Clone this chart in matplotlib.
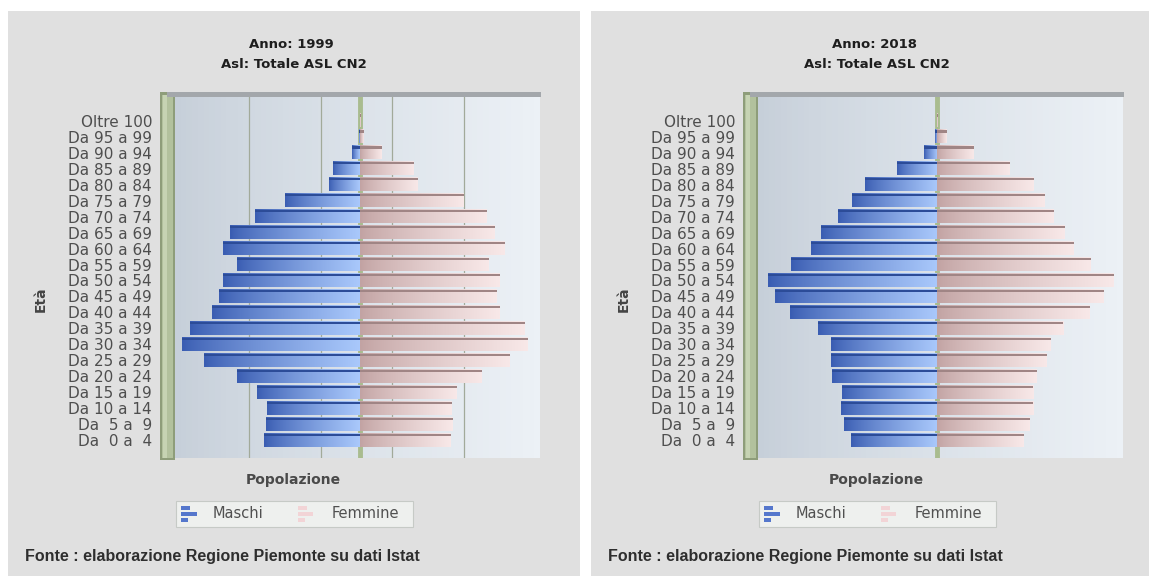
import numpy as np
import matplotlib
matplotlib.use("Agg")
import matplotlib.pyplot as plt
from matplotlib.colors import to_rgb
from matplotlib.patches import Rectangle

# age classes, bottom (youngest) to top
ages = ["Da  0 a  4", "Da  5 a  9", "Da 10 a 14", "Da 15 a 19", "Da 20 a 24",
        "Da 25 a 29", "Da 30 a 34", "Da 35 a 39", "Da 40 a 44", "Da 45 a 49",
        "Da 50 a 54", "Da 55 a 59", "Da 60 a 64", "Da 65 a 69", "Da 70 a 74",
        "Da 75 a 79", "Da 80 a 84", "Da 85 a 89", "Da 90 a 94", "Da 95 a 99",
        "Oltre 100"]

male_1999 = [3840, 3760, 3720, 4120, 4920, 6240, 7120, 6800, 5920, 5640, 5480,
             4920, 5480, 5200, 4200, 3000, 1240, 1080, 320, 40, 0]
female_1999 = [3640, 3720, 3680, 3880, 4880, 6000, 6720, 6600, 5600, 5480, 5600,
               5160, 5800, 5400, 5080, 4160, 2320, 2160, 880, 160, 20]

male_2018 = [3700, 4040, 4130, 4090, 4520, 4560, 4600, 5120, 6360, 6970, 7270,
             6320, 5420, 5030, 4260, 3660, 3100, 1720, 560, 90, 0]
female_2018 = [3740, 4000, 4130, 4130, 4300, 4690, 4900, 5420, 6540, 7180, 7610,
               6620, 5890, 5500, 5030, 4640, 4170, 3100, 1550, 430, 40]

lim_1999 = (-7400, 7200)
lim_2018 = (-7720, 7980)
grid_1999 = [-4440, -1560, 1280, 4160]
grid_2018 = []

W, H = 1149, 576
fig = plt.figure(figsize=(W / 100, H / 100), dpi=100)
fig.patch.set_facecolor("white")


def fx(x):
    return x / W


def fy(y):
    return 1 - y / H


def box(x0, y0, x1, y1, z=2, **kw):
    r = Rectangle((fx(x0), fy(y1)), (x1 - x0) / W, (y1 - y0) / H,
                  transform=fig.transFigure, zorder=z, **kw)
    fig.add_artist(r)


def ramp(c0, c1, n=64):
    c0 = np.array(to_rgb(c0))
    c1 = np.array(to_rgb(c1))
    t = np.linspace(0, 1, n) ** 0.8
    return (c0[None, :] * (1 - t[:, None]) + c1[None, :] * t[:, None])[None, :, :]


blue_img = ramp("#3a5db2", "#a9c8fb")
pink_img = ramp("#c2a3a3", "#f8e8e8")
bg_img = ramp("#c6cfd9", "#ecf1f6")


def pyramid(dx, year, male, female, lim, grid):
    box(8 + dx, 11, 580 + dx, 576, z=-1, facecolor="#e0e0e0", lw=0)

    ax = fig.add_axes([fx(175 + dx), fy(458), 365 / W, 361 / H])
    y0, y1 = -1.125, 21.5
    ax.imshow(bg_img, extent=[lim[0], lim[1], y0, y1], aspect="auto", zorder=0)
    for g in grid:
        ax.axvline(g, color="#a2aa9a", lw=0.9, zorder=1)
    ax.axvline(0, color="#a9bc8f", lw=3.5, zorder=1)

    h = 0.82
    for i, (m, f) in enumerate(zip(male, female)):
        if m > 0:
            ax.imshow(blue_img, extent=[-m, 0, i - h / 2, i + h / 2],
                      aspect="auto", interpolation="bilinear", zorder=3)
            ax.barh(i + h / 2 - 0.07, -m, height=0.14, color="#2c4c98", lw=0, zorder=4)
        if f > 0:
            ax.imshow(pink_img, extent=[0, f, i - h / 2, i + h / 2],
                      aspect="auto", interpolation="bilinear", zorder=3)
            ax.barh(i + h / 2 - 0.07, f, height=0.14, color="#a08585", lw=0, zorder=4)

    ax.set_xlim(*lim)
    ax.set_ylim(y0, y1)
    ax.set_xticks([])
    ax.set_yticks(range(len(ages)))
    ax.set_yticklabels(ages, fontsize=11, color="#4e4e4e")
    ax.tick_params(axis="y", length=0, pad=16.5)
    for s in ax.spines.values():
        s.set_visible(False)

    # side wall and top edge of the 3d frame
    box(160 + dx, 92, 175 + dx, 460, facecolor="#8e9d7a", lw=0)
    box(162 + dx, 95, 173 + dx, 458, facecolor="#b2c19d", lw=0)
    box(163 + dx, 95, 167 + dx, 458, facecolor="#c6d3b3", lw=0)
    box(167 + dx, 92, 541 + dx, 97, facecolor="#a3a7ab", lw=0)

    fig.text(fx(291 + dx), fy(44), "Anno: %d" % year, ha="center", va="center",
             fontsize=9.5, fontweight="bold", color="#1e1e1e")
    fig.text(fx(294 + dx), fy(65), "Asl: Totale ASL CN2", ha="center", va="center",
             fontsize=9.5, fontweight="bold", color="#1e1e1e")
    fig.text(fx(41 + dx), fy(299), "Età", rotation=90, ha="center", va="center",
             fontsize=10, fontweight="bold", color="#444444")
    fig.text(fx(293 + dx), fy(480), "Popolazione", ha="center", va="center",
             fontsize=10, fontweight="bold", color="#4a4a4a")

    # legend
    box(176 + dx, 501, 413 + dx, 527, facecolor="#eef0ee", edgecolor="#c6cac6", lw=0.8)
    for x0, x1, yy in [(181, 190, 506), (181, 197, 512), (181, 188, 518)]:
        box(x0 + dx, yy, x1 + dx, yy + 4, facecolor="#5577cc", lw=0, z=3)
    for x0, x1, yy in [(298, 307, 506), (298, 313, 512), (298, 305, 518)]:
        box(x0 + dx, yy, x1 + dx, yy + 4, facecolor="#f2d4d6", lw=0, z=3)
    fig.text(fx(213 + dx), fy(514), "Maschi", ha="left", va="center",
             fontsize=10.5, color="#505050")
    fig.text(fx(332 + dx), fy(514), "Femmine", ha="left", va="center",
             fontsize=10.5, color="#505050")

    fig.text(fx(25 + dx), fy(557), "Fonte : elaborazione Regione Piemonte su dati Istat",
             ha="left", va="center", fontsize=11.5, fontweight="bold",
             family="Liberation Sans", color="#2e2e2e")


pyramid(0, 1999, male_1999, female_1999, lim_1999, grid_1999)
pyramid(583, 2018, male_2018, female_2018, lim_2018, grid_2018)

fig.savefig("out.png", dpi=100, facecolor=fig.get_facecolor())
